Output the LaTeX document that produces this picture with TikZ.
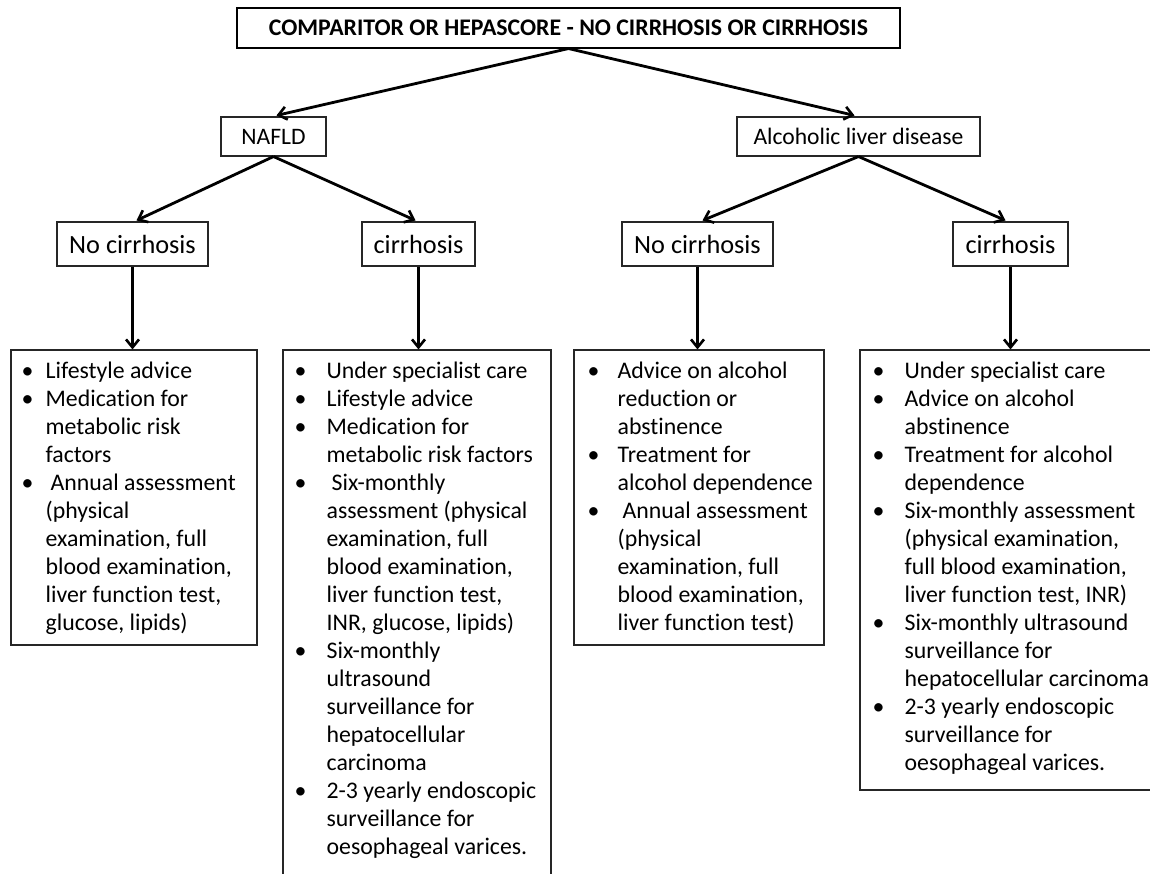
\documentclass[tikz,border=0pt]{standalone}
\usepackage{fontspec}
\setmainfont{Carlito}[RawFeature={-liga;-clig}]
\usetikzlibrary{arrows.meta,calc}
\newlength\bulw
\newcommand\bl[1]{\makebox[\bulw][l]{•}#1}
\newcommand\cl[1]{\hspace*{\bulw}#1}
\newcommand\lsp{\hspace*{5bp}}
\tikzset{
  box/.style={draw=black!85,line width=1.1bp,inner sep=0pt,rectangle},
  topbox/.style={box,draw=black,font=\fontsize{23.8bp}{27bp}\selectfont\bfseries},
  midbox/.style={box,font=\fontsize{23.6bp}{27bp}\selectfont},
  catbox/.style={box,font=\fontsize{26.3bp}{30bp}\selectfont},
  listbox/.style={box},
  listtext/.style={anchor=north west,inner sep=0pt,align=left,
     font=\fontsize{23.8bp}{28bp}\selectfont\setlength\bulw{#1}},
  arr/.style={line width=2.8bp,-{Straight Barb[length=8bp,width=13bp,line width=2.6bp]}},
}
\begin{document}
\begin{tikzpicture}[x=1bp,y=-1bp]
\useasboundingbox (0,0) rectangle (1150,874);
\fill[white] (0,0) rectangle (1150,874);

\node[topbox,minimum width=663bp,minimum height=40bp] (top) at (568.5,28) {COMPARITOR OR HEPASCORE - NO CIRRHOSIS OR CIRRHOSIS};

\node[midbox,minimum width=105bp,minimum height=39bp] (nafld) at (273.5,136.5) {NAFLD};
\node[midbox,minimum width=243bp,minimum height=39bp] (ald) at (858.5,136.5) {Alcoholic liver disease};

\node[catbox,minimum width=151bp,minimum height=44bp] (nc1) at (132.5,244) {No cirrhosis};
\node[catbox,minimum width=113bp,minimum height=44bp] (c1) at (418.5,244) {cirrhosis};
\node[catbox,minimum width=151bp,minimum height=44bp] (nc2) at (697.5,244) {No cirrhosis};
\node[catbox,minimum width=115bp,minimum height=44bp] (c2) at (1010.5,244) {cirrhosis};

\node[listbox,minimum width=246bp,minimum height=295bp] (b1) at (134,497.5) {};
\node[listbox,minimum width=268bp,minimum height=550bp] (b2) at (417,625) {};
\node[listbox,minimum width=250bp,minimum height=295bp] (b3) at (699,497.5) {};
\node[listbox,minimum width=300bp,minimum height=440bp] (b4) at (1010,570) {};

\node[listtext=24bp] (t1) at ($(b1.north west)+(11,12)$) {%
\bl{Lifestyle advice}\\
\bl{Medication for}\\
\cl{metabolic risk}\\
\cl{factors}\\
\bl{\lsp Annual assessment}\\
\cl{(physical}\\
\cl{examination, full}\\
\cl{blood examination,}\\
\cl{liver function test,}\\
\cl{glucose, lipids)}};

\node[listtext=32bp] (t2) at ($(b2.north west)+(12,12)$) {%
\bl{Under specialist care}\\
\bl{Lifestyle advice}\\
\bl{Medication for}\\
\cl{metabolic risk factors}\\
\bl{\lsp Six-monthly}\\
\cl{assessment (physical}\\
\cl{examination, full}\\
\cl{blood examination,}\\
\cl{liver function test,}\\
\cl{INR, glucose, lipids)}\\
\bl{Six-monthly}\\
\cl{ultrasound}\\
\cl{surveillance for}\\
\cl{hepatocellular}\\
\cl{carcinoma}\\
\bl{2-3 yearly endoscopic}\\
\cl{surveillance for}\\
\cl{oesophageal varices.}};

\node[listtext=30bp] (t3) at ($(b3.north west)+(14,12)$) {%
\bl{Advice on alcohol}\\
\cl{reduction or}\\
\cl{abstinence}\\
\bl{Treatment for}\\
\cl{alcohol dependence}\\
\bl{\lsp Annual assessment}\\
\cl{(physical}\\
\cl{examination, full}\\
\cl{blood examination,}\\
\cl{liver function test)}};

\node[listtext=32bp] (t4) at ($(b4.north west)+(13,12)$) {%
\bl{Under specialist care}\\
\bl{Advice on alcohol}\\
\cl{abstinence}\\
\bl{Treatment for alcohol}\\
\cl{dependence}\\
\bl{Six-monthly assessment}\\
\cl{(physical examination,}\\
\cl{full blood examination,}\\
\cl{liver function test, INR)}\\
\bl{Six-monthly ultrasound}\\
\cl{surveillance for}\\
\cl{hepatocellular carcinoma}\\
\bl{2-3 yearly endoscopic}\\
\cl{surveillance for}\\
\cl{oesophageal varices.}};

\draw[arr] (top.south) -- ($(nafld.north)+(3,-1)$);
\draw[arr] (top.south) -- ($(ald.north)+(-4,-1)$);
\draw[arr] (nafld.south) -- ($(nc1.north)+(4,-1)$);
\draw[arr] (nafld.south) -- ($(c1.north)+(-3,-1)$);
\draw[arr] (ald.south) -- ($(nc2.north)+(5,-1)$);
\draw[arr] (ald.south) -- ($(c2.north)+(-5,-1)$);

\draw[arr] (nc1.south) -- (nc1.south |- b1.north);
\draw[arr] (c1.south) -- (c1.south |- b2.north);
\draw[arr] (nc2.south) -- (nc2.south |- b3.north);
\draw[arr] (c2.south) -- (c2.south |- b4.north);
\end{tikzpicture}
\end{document}
